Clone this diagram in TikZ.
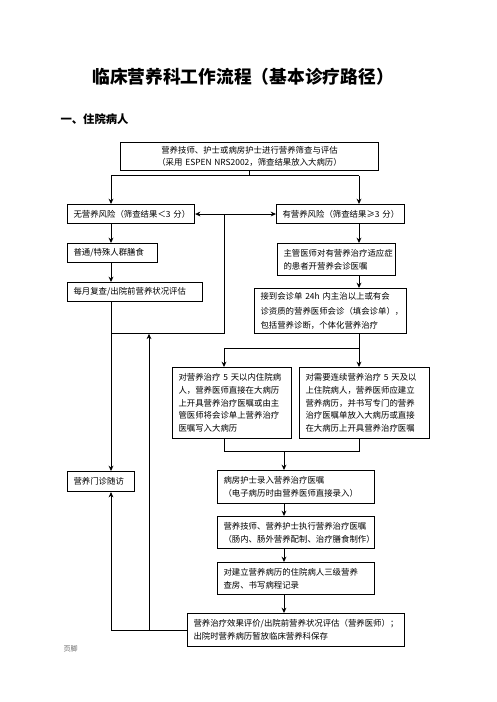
\documentclass[tikz,border=0pt]{standalone}
\usepackage{fontspec}
\newfontfamily\cjk{Noto Sans CJK SC}
\usetikzlibrary{arrows.meta}
\begin{document}
\begin{tikzpicture}[x=0.75pt, y=-0.75pt, line width=0.75pt, >={Stealth[length=4pt,width=3.6pt]},
  box/.style={draw, line width=0.8pt, anchor=north west, inner xsep=4.5pt, inner ysep=0pt, align=left, font=\cjk\fontsize{6.3pt}{9.5pt}\selectfont}]
  \useasboundingbox (0,0) rectangle (496,702);
  % 标题
  \node[font=\cjk\bfseries\fontsize{13.3pt}{16pt}\selectfont] (title) at (243,77) {临床营养科工作流程（基本诊疗路径）};
  \node[font=\cjk\bfseries\fontsize{8.5pt}{10pt}\selectfont, anchor=west, inner sep=0pt] (sec) at (60,119) {一、住院病人};
  \node[font=\cjk\fontsize{5.3pt}{6pt}\selectfont, text=black!60, anchor=west, inner sep=0pt] (foot) at (63,649) {页脚};
  % 方框
  \node[box, align=center, text width=184.5pt, minimum height=21pt] (top) at (120,142) {营养技师、护士或病房护士进行营养筛查与评估\\（采用~ESPEN~NRS2002，筛查结果放入大病历）};
  \node[box, text width=86.25pt, minimum height=14.25pt] (norisk) at (67,204) {无营养风险（筛查结果＜3~分）};
  \node[box, text width=87pt, minimum height=14.25pt] (risk) at (276,204) {有营养风险（筛查结果≥3~分）};
  \node[box, text width=58.5pt, minimum height=14.25pt] (diet) at (67,243) {普通/特殊人群膳食};
  \node[box, text width=92.25pt, minimum height=14.25pt] (monthly) at (67,282) {每月复查/出院前营养状况评估};
  \node[box, text width=79.5pt, minimum height=24pt] (doctor) at (277,243) {主管医师对有营养治疗适应症\\的患者开营养会诊医嘱};
  \node[box, text width=105pt, minimum height=33.75pt, font=\cjk\fontsize{6.3pt}{11pt}\selectfont] (consult) at (254,288) {接到会诊单~24h~内主治以上或有会\\诊资质的营养医师会诊（填会诊单），\\包括营养诊断，个体化营养治疗};
  \node[box, text width=80.25pt, minimum height=53.25pt] (short) at (172,367) {对营养治疗~5~天以内住院病\\人，营养医师直接在大病历\\上开具营养治疗医嘱或由主\\管医师将会诊单上营养治疗\\医嘱写入大病历};
  \node[box, text width=88.5pt, minimum height=53.25pt] (long) at (299,367) {对需要连续营养治疗~5~天及以\\上住院病人，营养医师应建立\\营养病历，并书写专门的营养\\治疗医嘱单放入大病历或直接\\在大病历上开具营养治疗医嘱};
  \node[box, text width=41.25pt, minimum height=15pt] (clinic) at (67,471) {营养门诊随访};
  \node[box, text width=108.75pt, minimum height=24.75pt] (nurse) at (217,470) {病房护士录入营养治疗医嘱\\（电子病历时由营养医师直接录入）};
  \node[box, text width=108.75pt, minimum height=24pt] (exec) at (217,516) {营养技师、营养护士执行营养治疗医嘱\\（肠内、肠外营养配制、治疗膳食制作）};
  \node[box, text width=108.75pt, minimum height=24pt] (ward) at (217,562) {对建立营养病历的住院病人三级营养\\查房、书写病程记录};
  \node[box, text width=153.75pt, minimum height=24.75pt] (eval) at (187,613) {营养治疗效果评价/出院前营养状况评估（营养医师）；\\出院时营养病历暂放临床营养科保存};
  % 连线用坐标
  \coordinate (nL) at (111,176); \coordinate (nR) at (359,176);
  \coordinate (loopX) at (224,0); \coordinate (loopY) at (0,333);
  \coordinate (backX) at (149,0);
  \coordinate (sY) at (0,348); \coordinate (mY) at (0,451);
  \coordinate (cX) at (284,0);
  % 分支
  \draw (top.south) -- (top.south |- nL);
  \draw[->] (nR) -- (nL) -- (nL |- norisk.north);
  \draw[->] (nR) -- (nR |- risk.north);
  \draw[<->] (norisk.east) -- (risk.west);
  % 左列
  \draw[->] (nL |- norisk.south) -- (nL |- diet.north);
  \draw[->] (nL |- diet.south) -- (nL |- monthly.north);
  \draw[->] (nL |- monthly.south) -- (nL |- clinic.north);
  \draw (loopX |- norisk.east) -- (loopX |- loopY) -- (nL |- loopY);
  \draw[->] (backX |- eval.west) -- ([yshift=-0.6pt]backX |- loopY);
  \draw[->] (eval.west) -- (nL |- eval.west) -- (nL |- clinic.south);
  % 右列
  \draw[->] (nR |- risk.south) -- (nR |- doctor.north);
  \draw[->] (nR |- doctor.south) -- (nR |- consult.north);
  \draw (nR |- consult.south) -- (nR |- sY);
  \draw[->] (nR |- sY) -- (nR |- long.north);
  \draw[->] (nR |- sY) -- (loopX |- sY) -- (loopX |- short.north);
  % 合并
  \draw (loopX |- short.south) -- (loopX |- mY) -- (nR |- mY) -- (nR |- long.south);
  \draw[->] (cX |- mY) -- (cX |- nurse.north);
  \draw[->] (cX |- nurse.south) -- (cX |- exec.north);
  \draw[->] (cX |- exec.south) -- (cX |- ward.north);
  \draw[->] (cX |- ward.south) -- (cX |- eval.north);
\end{tikzpicture}
\end{document}
